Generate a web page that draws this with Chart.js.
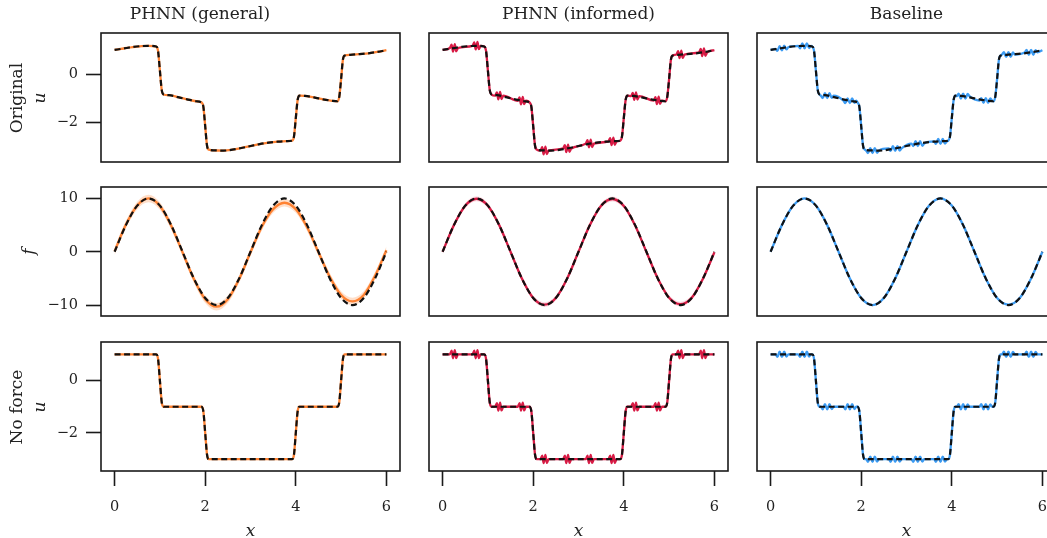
<!DOCTYPE html>
<html>
<head>
<meta charset="utf-8">
<script src="https://cdn.jsdelivr.net/npm/chart.js@4.4.0/dist/chart.umd.min.js"></script>
<style>
html, body { margin: 0; padding: 0; background: #fff; overflow: hidden; width: 1047px; height: 538px; }
#fig { position: relative; width: 1047px; height: 538px; overflow: hidden; }
#fig canvas { position: absolute; }
.ylab { position: absolute; width: 200px; font-family: "DejaVu Serif", serif; font-size: 17px; line-height: 23px;
        color: #222; text-align: center; transform: rotate(-90deg); white-space: nowrap; }
</style>
</head>
<body>
<div id="fig"></div>
<script>
// ---- text / ticks ----
const colTitles = ['PHNN (general)', 'PHNN (informed)', 'Baseline'];
const rowLabels = [['Original', 'u'], ['f'], ['No force', 'u']];
const xTicks = [0, 2, 4, 6];
const yTicks = [[-2, 0], [-10, 0, 10], [-2, 0]];
const yRanges = [[-3.63, 1.70], [-12.04, 12.15], [-3.45, 1.47]];

// ---- row 1: original problem, u ----
const origX = [0, 0.2, 0.4, 0.6, 0.75, 0.92, 0.96, 1.0, 1.04, 1.08, 1.2, 1.4, 1.6, 1.8,
    1.92, 1.96, 2.0, 2.04, 2.08, 2.2, 2.4, 2.6, 2.8, 3.0, 3.2, 3.4, 3.6, 3.8,
    3.92, 3.96, 4.0, 4.04, 4.08, 4.2, 4.4, 4.6, 4.8, 4.92, 4.96, 5.0, 5.04, 5.08,
    5.2, 5.4, 5.6, 5.8, 6.0];
const origU = [1.00, 1.06, 1.12, 1.16, 1.17, 1.14, 0.95, 0.15, -0.65, -0.84, -0.87, -0.95, -1.04, -1.12,
    -1.17, -1.35, -2.15, -2.95, -3.12, -3.15, -3.16, -3.12, -3.05, -2.97, -2.89, -2.83, -2.79, -2.77,
    -2.75, -2.57, -1.82, -1.07, -0.89, -0.90, -0.96, -1.04, -1.10, -1.12, -0.93, -0.20, 0.60, 0.77,
    0.80, 0.83, 0.86, 0.92, 0.99];
const genOrigU = [1.00, 1.06, 1.12, 1.16, 1.17, 1.14, 0.95, 0.15, -0.65, -0.84, -0.87, -0.95, -1.04, -1.12,
    -1.17, -1.35, -2.15, -2.95, -3.12, -3.15, -3.16, -3.12, -3.05, -2.97, -2.89, -2.83, -2.79, -2.77,
    -2.75, -2.57, -1.82, -1.07, -0.89, -0.90, -0.96, -1.04, -1.10, -1.12, -0.93, -0.20, 0.60, 0.77,
    0.80, 0.83, 0.86, 0.92, 0.99];

// informed model samples (small wiggles every half unit)
const infX = [0,
    0.16, 0.20, 0.23, 0.27, 0.30, 0.34,
    0.66, 0.70, 0.73, 0.77, 0.80, 0.84,
    0.92, 0.96, 1.00, 1.04, 1.08,
    1.16, 1.20, 1.23, 1.27, 1.30, 1.34,
    1.66, 1.70, 1.73, 1.77, 1.80, 1.84,
    1.92, 1.96, 2.00, 2.04, 2.08,
    2.16, 2.20, 2.23, 2.27, 2.30, 2.34,
    2.66, 2.70, 2.73, 2.77, 2.80, 2.84,
    3.16, 3.20, 3.23, 3.27, 3.30, 3.34,
    3.66, 3.70, 3.73, 3.77, 3.80, 3.84,
    3.92, 3.96, 4.00, 4.04, 4.08,
    4.16, 4.20, 4.23, 4.27, 4.30, 4.34,
    4.66, 4.70, 4.73, 4.77, 4.80, 4.84,
    4.92, 4.96, 5.00, 5.04, 5.08,
    5.16, 5.20, 5.23, 5.27, 5.30, 5.34,
    5.66, 5.70, 5.73, 5.77, 5.80, 5.84,
    6.0];
const infOrigU = [1.00,
    1.08, 1.22, 0.93, 1.24, 0.94, 1.08,
    1.17, 1.31, 1.02, 1.33, 1.03, 1.17,
    1.14, 0.95, 0.15, -0.65, -0.84,
    -0.89, -0.75, -1.04, -0.73, -1.03, -0.89,
    -1.10, -0.96, -1.25, -0.94, -1.24, -1.10,
    -1.17, -1.35, -2.15, -2.95, -3.12,
    -3.16, -3.02, -3.31, -3.00, -3.30, -3.16,
    -3.07, -2.93, -3.22, -2.91, -3.21, -3.07,
    -2.87, -2.73, -3.02, -2.71, -3.01, -2.87,
    -2.78, -2.64, -2.93, -2.62, -2.92, -2.78,
    -2.75, -2.57, -1.82, -1.07, -0.89,
    -0.91, -0.77, -1.06, -0.75, -1.05, -0.91,
    -1.09, -0.95, -1.24, -0.93, -1.23, -1.09,
    -1.12, -0.93, -0.20, 0.60, 0.77,
    0.81, 0.95, 0.66, 0.97, 0.67, 0.81,
    0.90, 1.04, 0.75, 1.06, 0.76, 0.90,
    0.99];

// baseline samples (wider double wiggles)
const baseX = [0,
    0.11, 0.15, 0.20, 0.25, 0.30, 0.35, 0.39,
    0.61, 0.65, 0.70, 0.75, 0.80, 0.85, 0.89,
    0.92, 0.96, 1.00, 1.04, 1.08,
    1.11, 1.15, 1.20, 1.25, 1.30, 1.35, 1.39,
    1.61, 1.65, 1.70, 1.75, 1.80, 1.85, 1.89,
    1.92, 1.96, 2.00, 2.04, 2.08,
    2.11, 2.15, 2.20, 2.25, 2.30, 2.35, 2.39,
    2.61, 2.65, 2.70, 2.75, 2.80, 2.85, 2.89,
    3.11, 3.15, 3.20, 3.25, 3.30, 3.35, 3.39,
    3.61, 3.65, 3.70, 3.75, 3.80, 3.85, 3.89,
    3.92, 3.96, 4.00, 4.04, 4.08,
    4.11, 4.15, 4.20, 4.25, 4.30, 4.35, 4.39,
    4.61, 4.65, 4.70, 4.75, 4.80, 4.85, 4.89,
    4.92, 4.96, 5.00, 5.04, 5.08,
    5.11, 5.15, 5.20, 5.25, 5.30, 5.35, 5.39,
    5.61, 5.65, 5.70, 5.75, 5.80, 5.85, 5.89,
    6.0];
const baseOrigU = [1.00,
    1.04, 0.96, 1.16, 0.98, 1.18, 1.02, 1.11,
    1.17, 1.07, 1.27, 1.07, 1.27, 1.08, 1.17,
    1.14, 0.95, 0.15, -0.65, -0.84,
    -0.89, -0.99, -0.79, -0.99, -0.79, -0.98, -0.89,
    -1.10, -1.20, -1.00, -1.20, -1.00, -1.19, -1.10,
    -1.17, -1.35, -2.15, -2.95, -3.12,
    -3.16, -3.26, -3.06, -3.26, -3.06, -3.25, -3.16,
    -3.07, -3.17, -2.97, -3.17, -2.97, -3.16, -3.07,
    -2.87, -2.97, -2.77, -2.97, -2.77, -2.96, -2.87,
    -2.78, -2.88, -2.68, -2.88, -2.68, -2.87, -2.78,
    -2.75, -2.57, -1.82, -1.07, -0.89,
    -0.91, -0.81, -1.01, -0.81, -1.01, -0.82, -0.91,
    -1.09, -0.99, -1.19, -0.99, -1.19, -1.00, -1.09,
    -1.12, -0.93, -0.20, 0.60, 0.77,
    0.81, 0.91, 0.71, 0.91, 0.71, 0.90, 0.81,
    0.90, 1.00, 0.80, 1.00, 0.80, 0.99, 0.90,
    0.99];

// ---- row 2: forcing term f ----
const fX = [0, 0.25, 0.5, 0.75, 1.0, 1.25, 1.5, 1.75, 2.0, 2.25, 2.5, 2.75, 3.0,
    3.25, 3.5, 3.75, 4.0, 4.25, 4.5, 4.75, 5.0, 5.25, 5.5, 5.75, 6.0];
const fTrue = [0, 5, 8.66, 10, 8.66, 5, 0, -5, -8.66, -10, -8.66, -5, 0,
    5, 8.66, 10, 8.66, 5, 0, -5, -8.66, -10, -8.66, -5, 0];
const genF = [0.1, 5.1, 8.7, 10.0, 8.6, 4.9, -0.1, -5.1, -8.9, -10.3, -8.9, -5.1, -0.1,
    4.7, 8.0, 9.2, 8.0, 4.6, -0.1, -4.7, -8.1, -9.3, -8.1, -4.5, 0.3];
const genFHi = [0.8, 5.8, 9.4, 10.7, 9.3, 5.6, 0.6, -4.4, -8.2, -9.6, -8.2, -4.4, 0.6,
    5.4, 8.7, 9.9, 8.7, 5.3, 0.6, -4.0, -7.4, -8.6, -7.4, -3.8, 1.0];
const genFLo = [-0.6, 4.4, 8.0, 9.3, 7.9, 4.2, -0.8, -5.8, -9.6, -11.0, -9.6, -5.8, -0.8,
    4.0, 7.3, 8.5, 7.3, 3.9, -0.8, -5.4, -8.8, -10.0, -8.8, -5.2, -0.4];
const infF = [0, 5, 8.65, 9.95, 8.65, 5, 0, -5, -8.65, -9.9, -8.65, -5, 0,
    5, 8.65, 9.9, 8.6, 4.95, -0.05, -5, -8.6, -9.8, -8.6, -5, -0.1];
const infFHi = [0.45, 5.45, 9.1, 10.4, 9.1, 5.45, 0.45, -4.55, -8.2, -9.45, -8.2, -4.55, 0.45,
    5.45, 9.1, 10.35, 9.05, 5.4, 0.4, -4.55, -8.15, -9.35, -8.15, -4.55, 0.35];
const infFLo = [-0.45, 4.55, 8.2, 9.5, 8.2, 4.55, -0.45, -5.45, -9.1, -10.35, -9.1, -5.45, -0.45,
    4.55, 8.2, 9.45, 8.15, 4.5, -0.5, -5.45, -9.05, -10.25, -9.05, -5.45, -0.55];
const baseF = [0, 5, 8.66, 10, 8.66, 5, 0, -5, -8.66, -10, -8.66, -5, 0,
    5, 8.66, 10, 8.66, 5, 0, -5, -8.66, -9.9, -8.66, -5, 0];

// ---- row 3: no force, u ----
const nfX = [0, 0.5, 0.92, 0.96, 1.0, 1.04, 1.08, 1.5, 1.92, 1.96, 2.0, 2.04, 2.08, 3.0,
    3.92, 3.96, 4.0, 4.04, 4.08, 4.5, 4.92, 4.96, 5.0, 5.04, 5.08, 5.5, 6.0];
const nfU = [1, 1, 1, 0.82, 0, -0.82, -1, -1, -1, -1.18, -2, -2.82, -3, -3,
    -3, -2.82, -2, -1.18, -1, -1, -1, -0.82, 0, 0.82, 1, 1, 1];
const genNfU = [1, 1, 1, 0.82, 0, -0.82, -1, -1, -1, -1.18, -2, -2.82, -3, -3,
    -3, -2.82, -2, -1.18, -1, -1, -1, -0.82, 0, 0.82, 1, 1, 1];
const infNfU = [1,
    1, 1.14, 0.85, 1.16, 0.86, 1,
    1, 1.14, 0.85, 1.16, 0.86, 1,
    1, 0.82, 0, -0.82, -1,
    -1, -0.86, -1.15, -0.84, -1.14, -1,
    -1, -0.86, -1.15, -0.84, -1.14, -1,
    -1, -1.18, -2, -2.82, -3,
    -3, -2.86, -3.15, -2.84, -3.14, -3,
    -3, -2.86, -3.15, -2.84, -3.14, -3,
    -3, -2.86, -3.15, -2.84, -3.14, -3,
    -3, -2.86, -3.15, -2.84, -3.14, -3,
    -3, -2.82, -2, -1.18, -1,
    -1, -0.86, -1.15, -0.84, -1.14, -1,
    -1, -0.86, -1.15, -0.84, -1.14, -1,
    -1, -0.82, 0, 0.82, 1,
    1, 1.14, 0.85, 1.16, 0.86, 1,
    1, 1.14, 0.85, 1.16, 0.86, 1,
    1];
const baseNfU = [1,
    1, 0.90, 1.10, 0.90, 1.10, 0.91, 1,
    1, 0.90, 1.10, 0.90, 1.10, 0.91, 1,
    1, 0.82, 0, -0.82, -1,
    -1, -1.10, -0.90, -1.10, -0.90, -1.09, -1,
    -1, -1.10, -0.90, -1.10, -0.90, -1.09, -1,
    -1, -1.18, -2, -2.82, -3,
    -3, -3.10, -2.90, -3.10, -2.90, -3.09, -3,
    -3, -3.10, -2.90, -3.10, -2.90, -3.09, -3,
    -3, -3.10, -2.90, -3.10, -2.90, -3.09, -3,
    -3, -3.10, -2.90, -3.10, -2.90, -3.09, -3,
    -3, -2.82, -2, -1.18, -1,
    -1, -0.90, -1.10, -0.90, -1.10, -0.91, -1,
    -1, -0.90, -1.10, -0.90, -1.10, -0.91, -1,
    -1, -0.82, 0, 0.82, 1,
    1, 1.10, 0.90, 1.10, 0.90, 1.09, 1,
    1, 1.10, 0.90, 1.10, 0.90, 1.09, 1,
    1];

// ---- styling ----
const FONT = '"DejaVu Serif", serif';
const INK = '#1a1a1a';
const modelColors = ['#ff8232', '#d81b45', '#3b9bf3'];
const bandColors = ['rgba(255,150,80,0.30)', 'rgba(220,40,80,0.16)', null];

// figure grid (plot boxes in page pixels)
const plotLeft = [101, 429, 757];
const plotTop = [33, 187, 342];
const plotW = 299, plotH = 129;

const pts = (xs, ys) => xs.map((x, i) => ({ x, y: ys[i] }));
const minus = v => String(v).replace('-', '\u2212');

// what goes in each panel: [row][col]
const panels = [
    [
        { truth: pts(origX, origU), pred: pts(origX, genOrigU) },
        { truth: pts(origX, origU), pred: pts(infX, infOrigU) },
        { truth: pts(origX, origU), pred: pts(baseX, baseOrigU) }
    ],
    [
        { truth: pts(fX, fTrue), pred: pts(fX, genF), band: [pts(fX, genFLo), pts(fX, genFHi)] },
        { truth: pts(fX, fTrue), pred: pts(fX, infF), band: [pts(fX, infFLo), pts(fX, infFHi)] },
        { truth: pts(fX, fTrue), pred: pts(fX, baseF) }
    ],
    [
        { truth: pts(nfX, nfU), pred: pts(nfX, genNfU) },
        { truth: pts(nfX, nfU), pred: pts(infX, infNfU) },
        { truth: pts(nfX, nfU), pred: pts(baseX, baseNfU) }
    ]
];

// matplotlib-style box around each axes
const framePlugin = {
    id: 'frame',
    afterDraw(chart) {
        const { ctx, chartArea: a } = chart;
        ctx.save();
        ctx.strokeStyle = INK;
        ctx.lineWidth = 1.6;
        ctx.strokeRect(a.left, a.top, a.right - a.left, a.bottom - a.top);
        ctx.restore();
    }
};

const fig = document.getElementById('fig');

for (let r = 0; r < 3; r++) {
    for (let c = 0; c < 3; c++) {
        const p = panels[r][c];
        const showX = r === 2, showY = c === 0;
        const padLeft = showY ? 0 : 3;
        const yAxisW = showY ? 101 : 0;
        const topSpace = r === 0 ? 33 : 2;
        const bottomSpace = showX ? 67 : 2;

        const canvas = document.createElement('canvas');
        const w = padLeft + yAxisW + plotW + 3;
        const h = topSpace + plotH + bottomSpace;
        canvas.width = w; canvas.height = h;
        canvas.style.width = w + 'px'; canvas.style.height = h + 'px';
        canvas.style.left = (showY ? 0 : plotLeft[c] - padLeft) + 'px';
        canvas.style.top = (r === 0 ? 0 : plotTop[r] - 2) + 'px';
        fig.appendChild(canvas);

        const datasets = [
            { data: p.truth, borderColor: '#111', borderWidth: 2.2, borderDash: [6, 3.5],
              pointRadius: 0, fill: false, order: 0, cubicInterpolationMode: 'monotone' },
            { data: p.pred, borderColor: modelColors[c], borderWidth: 2.3,
              pointRadius: 0, fill: false, order: 1, cubicInterpolationMode: 'monotone' }
        ];
        if (p.band && bandColors[c]) {
            datasets.push({ data: p.band[0], borderWidth: 0, pointRadius: 0, fill: false,
                order: 2, cubicInterpolationMode: 'monotone' });
            datasets.push({ data: p.band[1], borderWidth: 0, pointRadius: 0, fill: '-1',
                backgroundColor: bandColors[c], order: 2, cubicInterpolationMode: 'monotone' });
        }

        const tickGrid = { display: true, drawOnChartArea: false, drawTicks: true,
            tickLength: 15, tickWidth: 1.6, tickColor: INK };

        new Chart(canvas.getContext('2d'), {
            type: 'line',
            data: { datasets },
            plugins: [framePlugin],
            options: {
                responsive: false, animation: false, events: [],
                layout: { padding: { left: padLeft, right: 3, top: r === 0 ? 0 : 2, bottom: showX ? 0 : 2 } },
                plugins: {
                    legend: { display: false },
                    tooltip: { enabled: false },
                    title: {
                        display: r === 0, text: colTitles[c], color: '#222',
                        font: { family: FONT, size: 17, weight: 'normal', lineHeight: 1.2 },
                        padding: { top: 4, bottom: 8.6 }
                    }
                },
                scales: {
                    x: {
                        type: 'linear', min: -0.3, max: 6.3, display: showX,
                        afterBuildTicks: ax => { ax.ticks = xTicks.map(v => ({ value: v })); },
                        afterFit: ax => {
                            if (showX) ax.height = 67;
                            ax.paddingLeft = 0; ax.paddingRight = 0;
                        },
                        grid: tickGrid, border: { display: false },
                        ticks: { color: '#222', padding: 13, maxRotation: 0,
                                 font: { family: FONT, size: 14.5 }, callback: minus },
                        title: { display: true, text: 'x', color: '#222',
                                 font: { family: FONT, size: 17, style: 'italic', lineHeight: 0.8 },
                                 padding: { top: 0, bottom: 0 } }
                    },
                    y: {
                        type: 'linear', min: yRanges[r][0], max: yRanges[r][1], display: showY,
                        afterBuildTicks: ax => { ax.ticks = yTicks[r].map(v => ({ value: v })); },
                        afterFit: ax => {
                            if (showY) ax.width = 101;
                            ax.paddingTop = 0; ax.paddingBottom = 0;
                        },
                        grid: tickGrid, border: { display: false },
                        ticks: { color: '#222', padding: 8,
                                 font: { family: FONT, size: 14.5 }, callback: minus }
                    }
                }
            }
        });
    }
}

// row labels on the left
const labelCenters = [[27.5, 97.5], [28, 251.5], [27.5, 406.5]];
rowLabels.forEach((lines, r) => {
    const div = document.createElement('div');
    div.className = 'ylab';
    lines.forEach(t => {
        const line = document.createElement('div');
        line.textContent = t;
        if (t.length === 1) line.style.fontStyle = 'italic';
        div.appendChild(line);
    });
    const hgt = 23 * lines.length;
    div.style.left = (labelCenters[r][0] - 100) + 'px';
    div.style.top = (labelCenters[r][1] - hgt / 2) + 'px';
    div.style.height = hgt + 'px';
    fig.appendChild(div);
});
</script>
</body>
</html>
